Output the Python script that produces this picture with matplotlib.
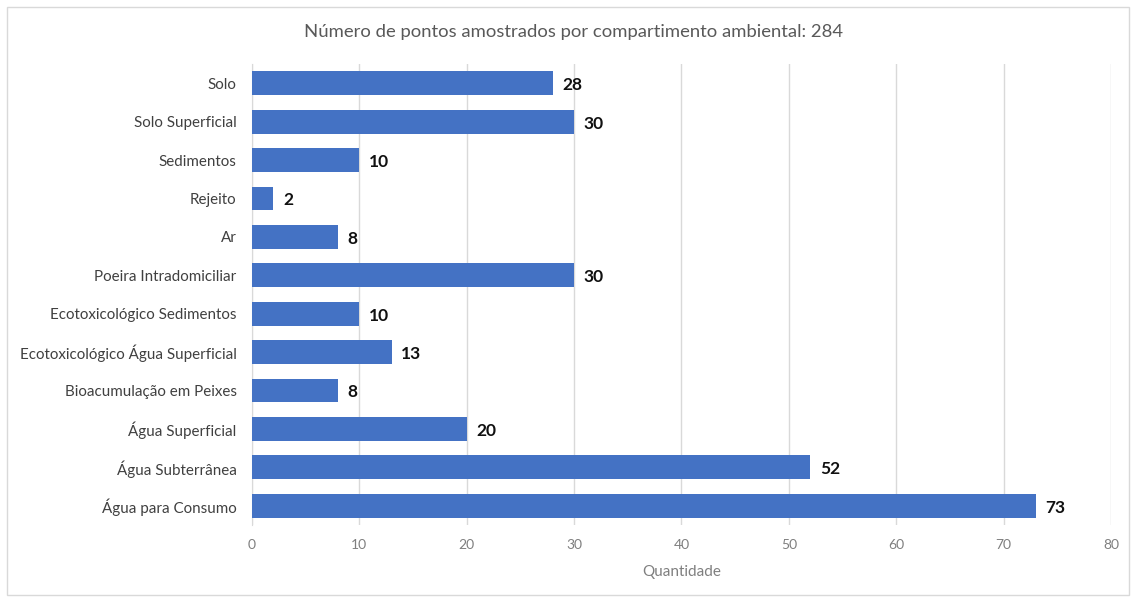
import matplotlib.pyplot as plt
from matplotlib.patches import Rectangle

categories = ['Solo', 'Solo Superficial', 'Sedimentos', 'Rejeito', 'Ar',
              'Poeira Intradomiciliar', 'Ecotoxicológico Sedimentos',
              'Ecotoxicológico Água Superficial', 'Bioacumulação em Peixes',
              'Água Superficial', 'Água Subterrânea', 'Água para Consumo']
quantidade = [28, 30, 10, 2, 8, 30, 10, 13, 8, 20, 52, 73]
x_ticks = [0, 10, 20, 30, 40, 50, 60, 70, 80]

plt.rcParams['font.family'] = ['Lato', 'DejaVu Sans']

fig = plt.figure(figsize=(11.36, 5.97), dpi=100)
ax = fig.add_axes([0.2218, 0.1206, 0.7562, 0.7722])

pos = list(range(len(categories)))
ax.barh(pos, quantidade, height=0.62, color='#4472C4', zorder=3)
for p, v in zip(pos, quantidade):
    ax.text(v + 0.9, p + 0.05, str(v), va='center', ha='left', fontsize=12.5,
            fontweight='bold', color='#111111')

ax.set_ylim(len(categories) - 0.5, -0.5)
ax.set_xlim(0, 80)
ax.set_yticks(pos)
ax.set_yticklabels(categories, fontsize=10.9, color='#404040')
ax.set_xticks(x_ticks)
ax.set_xticklabels([str(t) for t in x_ticks], fontsize=10, color='#7f7f7f')
ax.tick_params(axis='both', length=0)
ax.tick_params(axis='y', pad=11)
ax.tick_params(axis='x', pad=10)
ax.grid(axis='x', color='#d9d9d9', linewidth=1, zorder=0)
for s in ['top', 'right', 'bottom']:
    ax.spines[s].set_visible(False)
ax.spines['left'].set_color('#d9d9d9')

ax.set_xlabel('Quantidade', fontsize=11, color='#7f7f7f', labelpad=10)
fig.text(0.505, 0.946, 'Número de pontos amostrados por compartimento ambiental: 284',
         ha='center', va='center', fontsize=13.3, color='#595959')

fig.patches.append(Rectangle((0.006, 0.003), 0.988, 0.986, transform=fig.transFigure,
                             fill=False, edgecolor='#d9d9d9', linewidth=1))

fig.savefig('out.png', dpi=100)
